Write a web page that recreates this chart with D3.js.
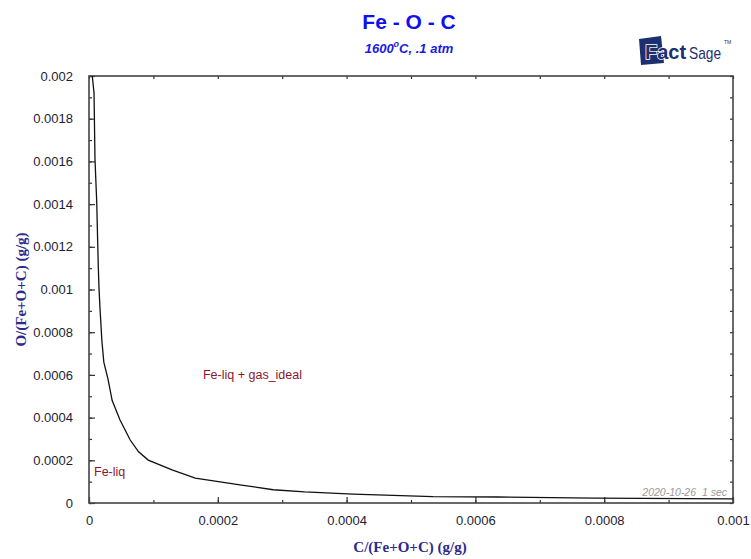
<!DOCTYPE html>
<html>
<head>
<meta charset="utf-8">
<script src="https://cdn.jsdelivr.net/npm/d3@7"></script>
<style>
  body { margin: 0; background: #fff; }
  svg { display: block; }
</style>
</head>
<body>
<script>
// Phase boundary Fe-liq / Fe-liq + gas_ideal
const carbon = [5.1e-6, 7.8e-6, 9.3e-6, 1.2e-5, 1.35e-5, 1.44e-5, 1.55e-5, 1.71e-5, 2.0e-5, 2.3e-5,
  2.95e-5, 3.6e-5, 4.8e-5, 6.4e-5, 7.7e-5, 9.2e-5, 1.29e-4, 1.65e-4, 2.37e-4, 2.86e-4, 3.35e-4,
  4.1e-4, 5.34e-4, 6.35e-4, 7.86e-4, 1.0e-3];
const oxygen = [0.002, 0.00192, 0.00161, 0.00141, 0.00122, 0.00111, 0.00101, 0.00091, 0.00076, 0.00066,
  0.00058, 0.00048, 0.00039, 0.000295, 0.000240, 0.000201, 0.000155, 0.000117, 0.000084, 0.000062, 0.000052,
  0.000042, 0.000030, 0.000028, 0.000023, 0.000019];

const xTicks = [0, 0.0002, 0.0004, 0.0006, 0.0008, 0.001];
const xTickLabels = ['0', '0.0002', '0.0004', '0.0006', '0.0008', '0.001'];
const yTicks = [0, 0.0002, 0.0004, 0.0006, 0.0008, 0.001, 0.0012, 0.0014, 0.0016, 0.0018, 0.002];
const yTickLabels = ['0', '0.0002', '0.0004', '0.0006', '0.0008', '0.001', '0.0012', '0.0014', '0.0016', '0.0018', '0.002'];

const phaseLabels = [
  { text: 'Fe-liq + gas_ideal', c: 0.000177, o: 0.00058 },
  { text: 'Fe-liq', c: 0.0000078, o: 0.000125 }
];

const [w, h] = [751, 559];
const margin = { left: 89, right: 18, top: 76, bottom: 56 };

const svg = d3.select('body').append('svg')
  .attr('width', w)
  .attr('height', h);

const x = d3.scaleLinear().domain([0, 0.001]).range([margin.left, w - margin.right]);
const y = d3.scaleLinear().domain([0, 0.002]).range([h - margin.bottom, margin.top]);

// Title
svg.append('text')
  .attr('x', 409).attr('y', 29)
  .attr('text-anchor', 'middle')
  .attr('font-family', 'Liberation Sans, Arial, sans-serif')
  .attr('font-weight', 'bold')
  .attr('font-size', '21px')
  .attr('fill', '#1010ee')
  .text('Fe - O - C');

const sub = svg.append('text')
  .attr('x', 409).attr('y', 53)
  .attr('text-anchor', 'middle')
  .attr('font-family', 'Liberation Sans, Arial, sans-serif')
  .attr('font-weight', 'bold')
  .attr('font-style', 'italic')
  .attr('font-size', '13px')
  .attr('fill', '#1a1ae6');
sub.append('tspan').text('1600');
sub.append('tspan').attr('dy', -6).attr('font-size', '9px').text('o');
sub.append('tspan').attr('dy', 6).text('C, .1 atm');

// FactSage logo (approximation)
const logo = svg.append('g').attr('transform', 'translate(636,36)');
logo.append('path')
  .attr('d', 'M3,3 L25,0 L28,27 L5,29 Z')
  .attr('fill', '#1c2f6e');
logo.append('text')
  .attr('x', 9).attr('y', 23)
  .attr('font-family', 'Liberation Sans, Arial, sans-serif')
  .attr('font-weight', 'bold')
  .attr('font-size', '20px')
  .attr('fill', '#1c2f6e')
  .attr('stroke', '#fff')
  .attr('stroke-width', 1.5)
  .attr('paint-order', 'stroke')
  .text('Fact');
logo.append('text')
  .attr('x', 53).attr('y', 23)
  .attr('font-family', 'Liberation Sans Narrow, Liberation Sans, Arial, sans-serif')
  .attr('font-size', '17px')
  .attr('fill', '#1c2f6e')
  .attr('textLength', 32)
  .attr('lengthAdjust', 'spacingAndGlyphs')
  .text('Sage');
logo.append('text')
  .attr('x', 88).attr('y', 8)
  .attr('font-family', 'Liberation Sans, Arial, sans-serif')
  .attr('font-size', '5px')
  .attr('fill', '#1c2f6e')
  .text('TM');

// Axes, ticks pointing into the plot
const axisFont = 'Liberation Sans, Arial, sans-serif';
const xMinor = d3.range(0, 0.00101, 0.0001);
const yMinor = d3.range(0, 0.00201, 0.0001);

const styleAxis = g => {
  g.select('.domain').remove();
  g.selectAll('line').attr('stroke', '#333').attr('stroke-width', 1.2);
};

svg.append('g')
  .attr('transform', `translate(0,${y(0)})`)
  .call(d3.axisBottom(x).tickValues(xMinor).tickSize(-3).tickFormat(''))
  .call(styleAxis);
svg.append('g')
  .attr('transform', `translate(0,${y(0)})`)
  .call(d3.axisBottom(x).tickValues(xTicks).tickSize(-6).tickPadding(13)
    .tickFormat((d, i) => xTickLabels[i]))
  .call(styleAxis)
  .call(g => g.selectAll('text').attr('font-family', axisFont).attr('font-size', '13px').attr('fill', '#1d1d33'));
svg.append('g')
  .attr('transform', `translate(0,${y(0.002)})`)
  .call(d3.axisTop(x).tickValues(xMinor).tickSize(-3).tickFormat(''))
  .call(styleAxis);

svg.append('g')
  .attr('transform', `translate(${x(0)},0)`)
  .call(d3.axisLeft(y).tickValues(yMinor).tickSize(-3).tickFormat(''))
  .call(styleAxis);
svg.append('g')
  .attr('transform', `translate(${x(0)},0)`)
  .call(d3.axisLeft(y).tickValues(yTicks).tickSize(-6).tickPadding(16)
    .tickFormat((d, i) => yTickLabels[i]))
  .call(styleAxis)
  .call(g => g.selectAll('text').attr('font-family', axisFont).attr('font-size', '13px').attr('fill', '#1d1d33'));
svg.append('g')
  .attr('transform', `translate(${x(0.001)},0)`)
  .call(d3.axisRight(y).tickValues(yMinor).tickSize(-3).tickFormat(''))
  .call(styleAxis);

// Frame
svg.append('rect')
  .attr('x', x(0)).attr('y', y(0.002))
  .attr('width', x(0.001) - x(0)).attr('height', y(0) - y(0.002))
  .attr('fill', 'none')
  .attr('stroke', '#444')
  .attr('stroke-width', 1.6);

// Axis titles
svg.append('text')
  .attr('x', 410).attr('y', 552)
  .attr('text-anchor', 'middle')
  .attr('font-family', 'Liberation Serif, Times New Roman, serif')
  .attr('font-weight', 'bold')
  .attr('font-size', '15px')
  .attr('fill', '#2b2b8c')
  .text('C/(Fe+O+C) (g/g)');

svg.append('text')
  .attr('transform', `translate(26,${(y(0) + y(0.002)) / 2}) rotate(-90)`)
  .attr('text-anchor', 'middle')
  .attr('font-family', 'Liberation Serif, Times New Roman, serif')
  .attr('font-weight', 'bold')
  .attr('font-size', '15px')
  .attr('fill', '#2b2b8c')
  .text('O/(Fe+O+C) (g/g)');

// Phase boundary
const line = d3.line()
  .x((d, i) => x(carbon[i]))
  .y(d => y(d));

svg.append('path')
  .datum(oxygen)
  .attr('d', line)
  .attr('fill', 'none')
  .attr('stroke', '#111')
  .attr('stroke-width', 1.3);

// Phase labels
svg.selectAll('.phase')
  .data(phaseLabels)
  .enter()
  .append('text')
  .attr('class', 'phase')
  .attr('x', d => x(d.c))
  .attr('y', d => y(d.o))
  .attr('font-family', axisFont)
  .attr('font-size', '12.5px')
  .attr('fill', '#8a1530')
  .text(d => d.text);

// Timestamp
svg.append('text')
  .attr('x', x(0.001) - 6).attr('y', y(0) - 7)
  .attr('text-anchor', 'end')
  .attr('font-family', axisFont)
  .attr('font-style', 'italic')
  .attr('font-size', '10.5px')
  .attr('fill', '#999')
  .style('white-space', 'pre')
  .text('2020-10-26  1 sec');
</script>
</body>
</html>
